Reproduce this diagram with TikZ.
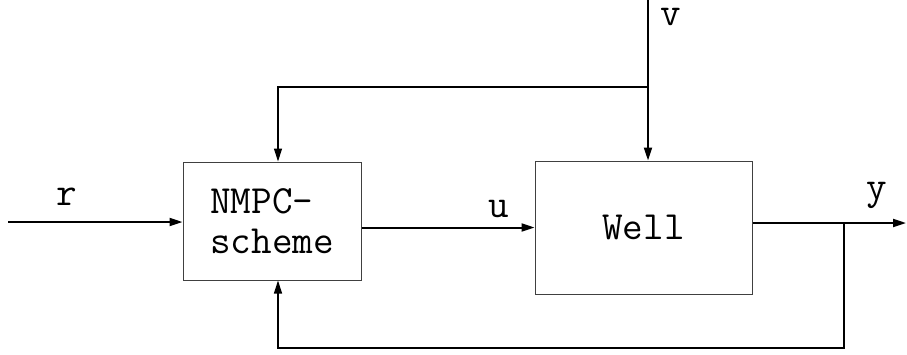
\documentclass[tikz,border=0pt]{standalone}
\usepackage{fontspec}
\usetikzlibrary{arrows.meta, calc}

\begin{document}
\begin{tikzpicture}[x=1pt, y=-1pt, >={Triangle[length=13pt, width=8pt]},
    every node/.style={font=\ttfamily\fontsize{40}{40}\selectfont},
    block/.style={draw=black!75, line width=1pt, inner sep=0pt},
    sig/.style={line width=2pt},
    fb/.style={line width=1.2pt},
    lbl/.style={anchor=base, inner sep=0pt}]
  \useasboundingbox (0,0) rectangle (907,354);
  \node[block, minimum width=178pt, minimum height=118pt, align=left] (nmpc) at (272,221) {NMPC-\\scheme};
  \node[block, minimum width=217pt, minimum height=133pt] (well) at (643.5,227.5) {Well};
  % inputs and branch points
  \coordinate (rin) at (8,222);
  \coordinate (vtop) at (648,0);
  \coordinate (vbr) at (648,87);
  \coordinate (yout) at (906,223);
  \coordinate (ybr) at (844,223);
  \coordinate (fbx) at (278,0);
  \draw[sig, ->] (rin) -- (rin -| nmpc.west);
  \draw[sig, ->] (nmpc.east |- well.west) -- (well.west);
  \draw[sig, ->] (vtop) -- (vtop |- well.north);
  \draw[sig, ->] (well.east |- yout) -- (yout);
  \draw[fb, ->] (vbr) -| (fbx |- nmpc.north);
  \draw[fb, ->] (ybr) |- (fbx |- 0,348) -- (fbx |- nmpc.south);
  % signal names
  \node[lbl] (rlbl) at (67,205) {r};
  \node[lbl] (ulbl) at (499,217) {u};
  \node[lbl] (vlbl) at (671,25) {v};
  \node[lbl] (ylbl) at (877,199) {y};
\end{tikzpicture}
\end{document}
